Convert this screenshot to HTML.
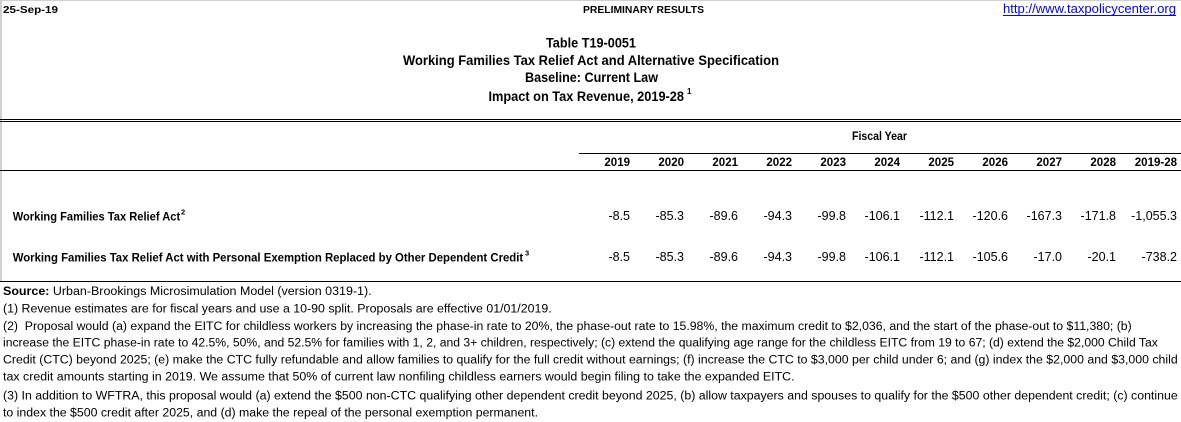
<!DOCTYPE html>
<html>
<head>
<meta charset="utf-8">
<style>
html,body{margin:0;padding:0;background:#fff;}
body{width:1181px;height:422px;overflow:hidden;}
svg{display:block;}
text{font-family:"Liberation Sans",Arial,sans-serif;fill:#000;white-space:pre;}
.b{font-weight:bold;}
</style>
</head>
<body>
<svg width="1181" height="422" viewBox="0 0 1181 422" xmlns="http://www.w3.org/2000/svg">
<rect x="0" y="0" width="1181" height="422" fill="#fff"/>
<!-- borders -->
<rect x="0" y="0" width="1181" height="1" fill="#d0d0d0"/>
<rect x="0" y="0" width="2" height="281" fill="#d0d0d0"/>
<rect x="0" y="119" width="1181" height="1" fill="#000"/>
<rect x="0" y="121" width="1181" height="1" fill="#000"/>
<rect x="579" y="153" width="602" height="1" fill="#000"/>
<rect x="0" y="170" width="1181" height="1" fill="#000"/>
<rect x="0" y="281" width="1181" height="1" fill="#000"/>

<!-- top row -->
<text class="b" x="3" y="13" font-size="10.5" textLength="55" lengthAdjust="spacingAndGlyphs">25-Sep-19</text>
<text class="b" x="583" y="13" font-size="10.5" textLength="121" lengthAdjust="spacingAndGlyphs">PRELIMINARY RESULTS</text>
<text x="1003" y="13" font-size="12.5" style="fill:#0000ff" textLength="173" lengthAdjust="spacingAndGlyphs">http://www.taxpolicycenter.org</text>
<rect x="1003" y="15" width="173" height="1" fill="#0000ff"/>

<!-- titles -->
<text class="b" x="546" y="47.5" font-size="13.5" textLength="90" lengthAdjust="spacingAndGlyphs">Table T19-0051</text>
<text class="b" x="403" y="65" font-size="13.5" textLength="376" lengthAdjust="spacingAndGlyphs">Working Families Tax Relief Act and Alternative Specification</text>
<text class="b" x="525" y="82" font-size="13.5" textLength="133" lengthAdjust="spacingAndGlyphs">Baseline: Current Law</text>
<text class="b" x="488.5" y="101" font-size="13.5" textLength="195.5" lengthAdjust="spacingAndGlyphs">Impact on Tax Revenue, 2019-28</text>
<text class="b" x="687" y="94" font-size="8">1</text>

<!-- header -->
<text class="b" x="852" y="140" font-size="11.5" textLength="55" lengthAdjust="spacingAndGlyphs">Fiscal Year</text>
<g font-size="11.5" text-anchor="end">
<text class="b" x="630" y="166">2019</text>
<text class="b" x="684" y="166">2020</text>
<text class="b" x="738" y="166">2021</text>
<text class="b" x="792" y="166">2022</text>
<text class="b" x="846" y="166">2023</text>
<text class="b" x="900" y="166">2024</text>
<text class="b" x="954" y="166">2025</text>
<text class="b" x="1008" y="166">2026</text>
<text class="b" x="1062" y="166">2027</text>
<text class="b" x="1116" y="166">2028</text>
<text class="b" x="1177" y="166">2019-28</text>
</g>

<!-- rows -->
<text class="b" x="12.7" y="220.5" font-size="12" textLength="167.5" lengthAdjust="spacingAndGlyphs">Working Families Tax Relief Act</text>
<text class="b" x="181" y="214.5" font-size="7.5">2</text>
<text class="b" x="12.7" y="261.5" font-size="12" textLength="510.5" lengthAdjust="spacingAndGlyphs">Working Families Tax Relief Act with Personal Exemption Replaced by Other Dependent Credit</text>
<text class="b" x="525" y="255.5" font-size="7.5">3</text>

<g font-size="12.5" text-anchor="end">
<text x="630" y="220">-8.5</text>
<text x="684" y="220">-85.3</text>
<text x="738" y="220">-89.6</text>
<text x="792" y="220">-94.3</text>
<text x="846" y="220">-99.8</text>
<text x="900" y="220">-106.1</text>
<text x="954" y="220">-112.1</text>
<text x="1008" y="220">-120.6</text>
<text x="1062" y="220">-167.3</text>
<text x="1116" y="220">-171.8</text>
<text x="1177" y="220">-1,055.3</text>

<text x="630" y="261">-8.5</text>
<text x="684" y="261">-85.3</text>
<text x="738" y="261">-89.6</text>
<text x="792" y="261">-94.3</text>
<text x="846" y="261">-99.8</text>
<text x="900" y="261">-106.1</text>
<text x="954" y="261">-112.1</text>
<text x="1008" y="261">-105.6</text>
<text x="1062" y="261">-17.0</text>
<text x="1116" y="261">-20.1</text>
<text x="1177" y="261">-738.2</text>
</g>

<!-- footnotes -->
<g font-size="11.5">
<text x="3" y="295" textLength="368.6" lengthAdjust="spacingAndGlyphs"><tspan font-weight="bold">Source:</tspan> Urban-Brookings Microsimulation Model (version 0319-1).</text>
<text x="3" y="312.3" textLength="548.7" lengthAdjust="spacingAndGlyphs">(1) Revenue estimates are for fiscal years and use a 10-90 split. Proposals are effective 01/01/2019.</text>
<text x="3" y="330" textLength="1128.7" lengthAdjust="spacingAndGlyphs">(2)  Proposal would (a) expand the EITC for childless workers by increasing the phase-in rate to 20%, the phase-out rate to 15.98%, the maximum credit to $2,036, and the start of the phase-out to $11,380; (b)</text>
<text x="3" y="346.7" textLength="1154.8" lengthAdjust="spacingAndGlyphs">increase the EITC phase-in rate to 42.5%, 50%, and 52.5% for families with 1, 2, and 3+ children, respectively; (c) extend the qualifying age range for the childless EITC from 19 to 67; (d) extend the $2,000 Child Tax</text>
<text x="3" y="363.7" textLength="1174.7" lengthAdjust="spacingAndGlyphs">Credit (CTC) beyond 2025; (e) make the CTC fully refundable and allow families to qualify for the full credit without earnings; (f) increase the CTC to $3,000 per child under 6; and (g) index the $2,000 and $3,000 child</text>
<text x="3" y="380.7" textLength="791.6" lengthAdjust="spacingAndGlyphs">tax credit amounts starting in 2019. We assume that 50% of current law nonfiling childless earners would begin filing to take the expanded EITC.</text>
<text x="3" y="399.3" textLength="1174.7" lengthAdjust="spacingAndGlyphs">(3) In addition to WFTRA, this proposal would (a) extend the $500 non-CTC qualifying other dependent credit beyond 2025, (b) allow taxpayers and spouses to qualify for the $500 other dependent credit; (c) continue</text>
<text x="3" y="416.7" textLength="535" lengthAdjust="spacingAndGlyphs">to index the $500 credit after 2025, and (d) make the repeal of the personal exemption permanent.</text>
</g>
</svg>
</body>
</html>
